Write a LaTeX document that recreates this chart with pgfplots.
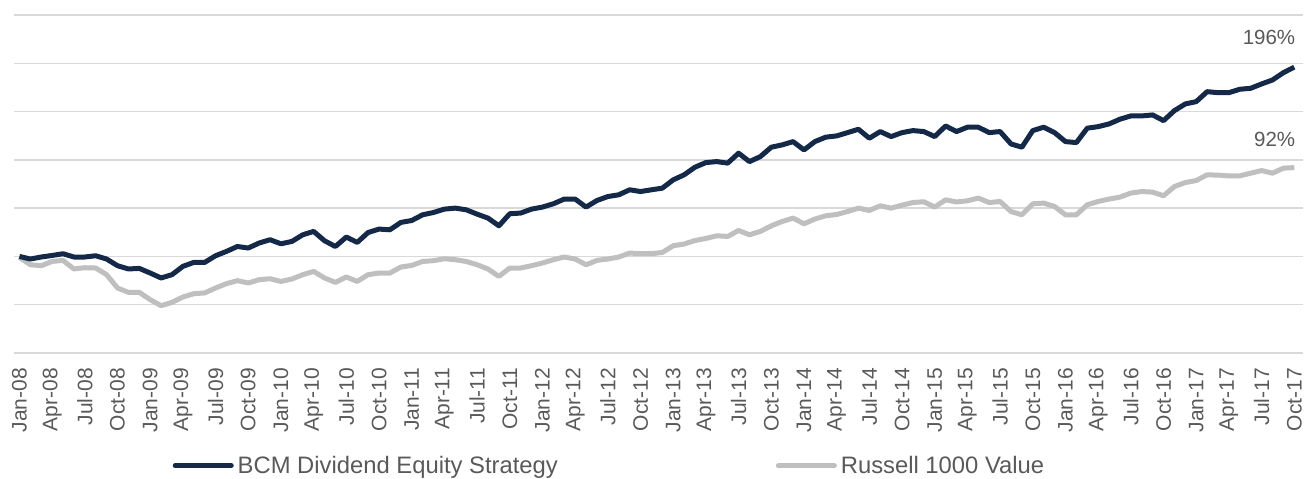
\documentclass[border=0pt]{standalone}
\usepackage{pgfplots}
\pgfplotsset{compat=1.18}
\usepackage{pgfplotstable}
\usepackage{fontspec}
\setmainfont{Liberation Sans}
\definecolor{navy}{RGB}{20,40,72}
\definecolor{rgray}{RGB}{191,191,191}
\definecolor{gridc}{RGB}{217,217,217}
\definecolor{txt}{RGB}{89,89,89}

\pgfplotstableread{
m v
0 0
1 -2.7
2 -0.6
3 1.0
4 2.8
5 -0.6
6 -0.6
7 0.7
8 -2.7
9 -9.6
10 -13.0
11 -12.4
12 -17.2
13 -22.3
14 -18.9
15 -10.3
16 -6.2
17 -6.2
18 0.7
19 5.2
20 10.3
21 8.7
22 13.9
23 17.3
24 13.1
25 15.5
26 22.4
27 25.9
28 16.2
29 10.3
30 20.1
31 14.5
32 24.8
33 28.3
34 27.6
35 35.2
36 37.2
37 43.1
38 45.5
39 49.0
40 50.0
41 48.3
42 43.8
43 39.7
44 31.7
45 44.2
46 44.9
47 49.0
48 51.1
49 54.5
50 59.4
51 59.4
52 51.1
53 57.9
54 62.0
55 63.8
56 69.0
57 67.2
58 69.0
59 70.7
60 79.3
61 84.5
62 92.4
63 97.2
64 98.2
65 96.6
66 106.9
67 98.2
68 103.4
69 113.1
70 115.5
71 118.9
72 110.3
73 118.9
74 123.5
75 124.8
76 128.2
77 131.7
78 122.4
79 129.3
80 124.1
81 128.2
82 130.3
83 129.3
84 124.1
85 135.1
86 129.3
87 133.8
88 133.8
89 128.2
90 129.3
91 116.5
92 113.1
93 130.3
94 133.8
95 128.2
96 118.9
97 117.9
98 132.8
99 134.4
100 137.2
101 142.1
102 145.5
103 145.5
104 146.5
105 140.6
106 151.0
107 157.9
108 160.3
109 170.6
110 169.6
111 169.6
112 173.1
113 174.1
114 178.6
115 182.7
116 190.3
117 196
}\bcm

\pgfplotstableread{
m v
0 -1
1 -8.6
2 -9.6
3 -5.2
4 -4.1
5 -13.0
6 -11.7
7 -12.0
8 -18.9
9 -32.7
10 -37.2
11 -37.2
12 -44.8
13 -51.0
14 -47.6
15 -42.0
16 -38.6
17 -37.8
18 -32.7
19 -28.2
20 -25.1
21 -27.5
22 -24.1
23 -23.1
24 -25.9
25 -23.4
26 -18.9
27 -15.5
28 -22.3
29 -26.9
30 -21.3
31 -25.9
32 -18.9
33 -17.2
34 -17.2
35 -11.0
36 -9.3
37 -5.2
38 -4.4
39 -2.4
40 -3.4
41 -5.2
42 -8.6
43 -13.0
44 -20.7
45 -12.0
46 -12.0
47 -9.6
48 -6.8
49 -3.4
50 -0.6
51 -2.7
52 -8.6
53 -4.1
54 -2.7
55 -0.6
56 3.5
57 2.8
58 2.8
59 4.1
60 11.1
61 12.8
62 16.5
63 18.6
64 21.4
65 20.7
66 26.9
67 22.4
68 25.9
69 31.7
70 36.2
71 39.7
72 33.8
73 38.7
74 42.1
75 43.4
76 46.5
77 50.0
78 47.6
79 52.4
80 50.0
81 53.1
82 55.8
83 56.6
84 51.1
85 58.6
86 56.4
87 57.6
88 60.4
89 55.8
90 56.9
91 46.5
92 43.1
93 54.5
94 55.2
95 51.7
96 43.1
97 43.1
98 53.5
99 56.9
100 59.4
101 61.4
102 65.6
103 67.2
104 66.6
105 62.8
106 72.4
107 76.5
108 78.6
109 84.5
110 84.2
111 83.4
112 83.4
113 86.2
114 88.9
115 86.2
116 91.4
117 92
}\rus

\begin{document}
\begin{tikzpicture}
\useasboundingbox (0,0) rectangle (1306pt,479pt);
\begin{axis}[
  at={(14pt,126pt)}, anchor=south west,
  scale only axis, width=1289pt, height=338pt,
  xmin=-0.5, xmax=117.8, ymin=-100, ymax=250,
  axis line style={draw=none},
  ymajorgrids, ytick={-100,-50,...,250}, yticklabels={},
  grid style={gridc, line width=1.5pt},
  xtick={0,3,...,117},
  xticklabels={Jan-08,Apr-08,Jul-08,Oct-08,Jan-09,Apr-09,Jul-09,Oct-09,Jan-10,Apr-10,Jul-10,Oct-10,Jan-11,Apr-11,Jul-11,Oct-11,Jan-12,Apr-12,Jul-12,Oct-12,Jan-13,Apr-13,Jul-13,Oct-13,Jan-14,Apr-14,Jul-14,Oct-14,Jan-15,Apr-15,Jul-15,Oct-15,Jan-16,Apr-16,Jul-16,Oct-16,Jan-17,Apr-17,Jul-17,Oct-17},
  major tick length=0pt,
  tick style={draw=none},
  x tick label style={rotate=90, anchor=east, inner sep=0pt, font=\fontsize{21}{24}\selectfont, text=txt},
  xticklabel shift=15pt,
  clip=false,
  legend columns=2,
  legend style={at={(rel axis cs:0.123,-0.334)}, anchor=west, draw=none, fill=none,
    inner sep=0pt, font=\fontsize{23.8}{28}\selectfont, text=txt,
    nodes={inner sep=0pt},
    /tikz/every odd column/.append style={column sep=4pt},
    /tikz/every even column/.append style={column sep=218pt}},
  legend image code/.code={\draw[#1, line cap=round] (0pt,0pt) -- (56pt,0pt);},
]
\addplot[rgray, line width=5pt, line join=round, forget plot] table[x=m,y=v] {\rus};
\addplot[navy, line width=5pt, line join=round] table[x=m,y=v] {\bcm};
\addlegendentry{BCM Dividend Equity Strategy}
\addlegendimage{rgray, line width=5pt}
\addlegendentry{Russell 1000 Value}
\node[anchor=east, inner sep=0pt, text=txt, font=\fontsize{20.5}{24}\selectfont] at (axis cs:117.1,226.7) {196\%};
\node[anchor=east, inner sep=0pt, text=txt, font=\fontsize{20.5}{24}\selectfont] at (axis cs:117.1,121.2) {92\%};
\end{axis}
\end{tikzpicture}
\end{document}
